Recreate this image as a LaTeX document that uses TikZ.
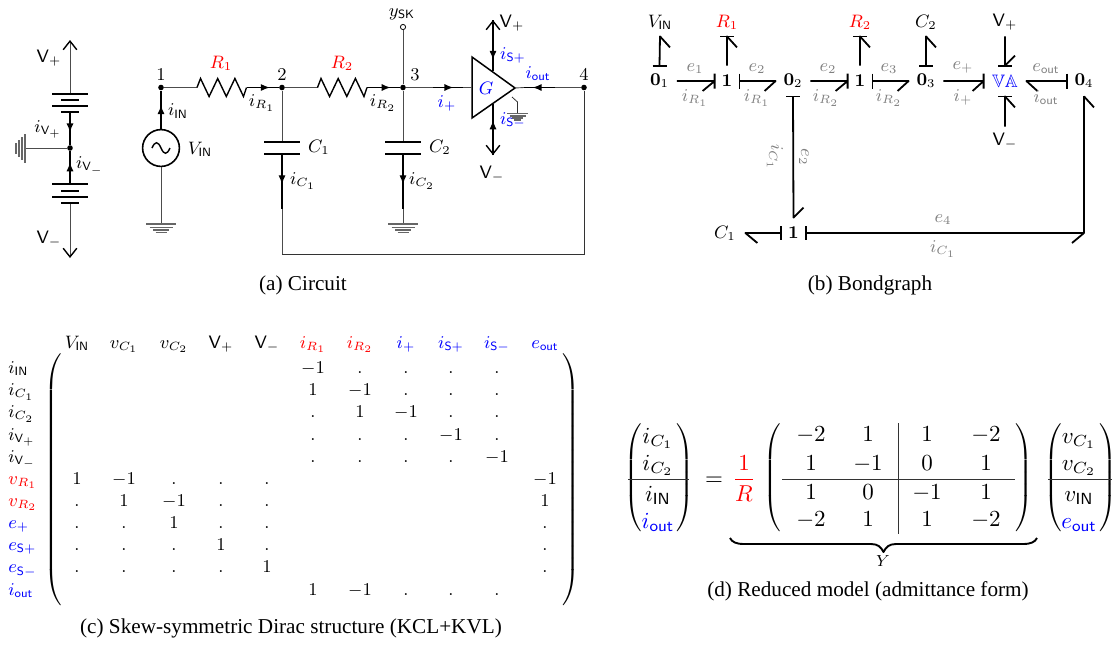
\documentclass[tikz,border=0pt]{standalone}
\usepackage[no-math]{fontspec}
\usepackage{amsmath,amssymb}
\usetikzlibrary{arrows.meta,decorations.markings,calc}
\newfontfamily\capfont{Liberation Serif}
\newcommand{\Vp}{\mathsf{V}_{+}}
\newcommand{\Vm}{\mathsf{V}_{-}}
\newcommand{\mysf}[1]{\mathsf{#1}}
\tikzset{
  x=0.5pt,y=-0.5pt,
  wire/.style={line width=0.45pt,black!70},
  blk/.style={line width=0.7pt,black},
  plate/.style={line width=0.8pt,black},
  gnd/.style={line width=0.6pt,black!60},
  curarrow/.style={decoration={markings,mark=at position #1 with {\arrow{Latex[length=4.5pt,width=3.6pt,black]}}},postaction=decorate},
  barb/.style={-{Straight Barb[length=4.3pt,width=6.8pt,black,line width=0.7pt]}},
  dotn/.style={circle,fill=black,inner sep=0pt,minimum size=2.8pt},
  txt/.style={inner sep=0pt,font=\small},
  bl/.style={txt,text=blue},
  rd/.style={txt,text=red},
  captext/.style={inner sep=0pt,font=\capfont\fontsize{10.6}{13}\selectfont},
  bond/.style={line width=0.9pt,black,line join=round},
  bnode/.style={inner sep=0pt,minimum height=15pt,font=\small},
  zero/.style={bnode,minimum width=17pt},
  one/.style={bnode,minimum width=12pt},
  va/.style={bnode,minimum width=21pt,text=blue},
  bext/.style={inner sep=0pt,minimum height=14pt,font=\small},
  glab/.style={inner sep=0pt,text=black!50,font=\small},
  ent/.style={inner sep=0pt,anchor=base,font=\small},
  rowl/.style={inner sep=0pt,anchor=base west,font=\small},
  dent/.style={inner sep=0pt,anchor=base,scale=1.15},
  rulel/.style={line width=0.45pt,black!80},
}
\begin{document}
\begin{tikzpicture}
\useasboundingbox (0,0) rectangle (1116,644);
% ---------- (a) supply branch
\coordinate (vpt) at (70,40);
\coordinate (bt1) at (70,94);
\coordinate (bt2) at (70,112);
\node[dotn] (nm) at (70,148) {};
\coordinate (bb1) at (70,184);
\coordinate (bb2) at (70,203);
\coordinate (vmt) at (70,258);
\coordinate (gl) at (25,148);
\draw[wire,barb] (bt1) -- (vpt);
\draw[wire,barb] (bb2) -- (vmt);
\draw[blk,curarrow=0.62] (bt2) -- (nm);
\draw[blk,curarrow=0.66] (bb1) -- (nm);
\draw[wire] (nm) -- (gl);
\foreach \yy/\hw in {94/18,106/18,184/18,197/18}{\draw[plate] (70-\hw,\yy) -- (70+\hw,\yy);}
\foreach \yy/\hw in {100/9,112/9,191/9,203/9}{\draw[plate] (70-\hw,\yy) -- (70+\hw,\yy);}
\draw[gnd] (25,134) -- (25,163) (22,137) -- (22,160) (19,140) -- (19,157) (16,143) -- (16,154);
\node[txt] (lvp) at (49,58) {$\Vp$};
\node[txt] (lvm) at (49,239) {$\Vm$};
\node[txt] (liv1) at (48,129.5) {$i_{\Vp}$};
\node[txt] (liv2) at (90,166) {$i_{\Vm}$};
% ---------- (a) main circuit
\node[dotn] (n1) at (161,87.5) {};
\node[dotn] (n2) at (282,87.5) {};
\node[dotn] (n3) at (403,87.5) {};
\node[dotn] (n4) at (584,87.5) {};
\node[circle,draw=black,line width=0.8pt,minimum size=18.4pt,inner sep=0pt] (vs) at (161,148) {};
\draw[line width=0.7pt] (152,148) .. controls (155,141) and (158,141) .. (161,148) .. controls (164,155) and (167,155) .. (170,148);
\draw[blk,curarrow=0.62] (vs.north) -- (n1);
\coordinate (g1) at (161,224);
\draw[wire] (vs.south) -- (g1);
\coordinate (r1a) at (197,87.5);
\coordinate (r1b) at (246.5,87.5);
\coordinate (r2a) at (317.5,87.5);
\coordinate (r2b) at (367,87.5);
\draw[wire] (n1) -- (r1a);
\draw[blk] (r1a) -- ++(3.5,-9) -- ++(8.6,18) -- ++(8.6,-18) -- ++(8.6,18) -- ++(8.6,-18) -- ++(8.6,18) -- (r1b);
\draw[blk,curarrow=0.72] (r1b) -- (n2);
\draw[wire] (n2) -- (r2a);
\draw[blk] (r2a) -- ++(3.5,-9) -- ++(8.6,18) -- ++(8.6,-18) -- ++(8.6,18) -- ++(8.6,-18) -- ++(8.6,18) -- (r2b);
\draw[blk,curarrow=0.72] (r2b) -- (n3);
% capacitor branches
\coordinate (c1t) at (282,142); \coordinate (c1b) at (282,154); \coordinate (c1e) at (282,209); \coordinate (c1f) at (282,254);
\coordinate (c2t) at (403,142); \coordinate (c2b) at (403,154); \coordinate (c2e) at (403,209); \coordinate (g2) at (403,224);
\draw[wire] (n2) -- (c1t);
\draw[plate] ($(c1t)+(-18,0)$) -- ($(c1t)+(18,0)$);
\draw[plate] ($(c1b)+(-18,0)$) -- ($(c1b)+(18,0)$);
\draw[blk,curarrow=0.55] (c1b) -- (c1e);
\draw[wire] (c1e) -- (c1f);
\draw[wire,black!80] (c1f) -| (n4);
\draw[wire] (n3) -- (c2t);
\draw[plate] ($(c2t)+(-18,0)$) -- ($(c2t)+(18,0)$);
\draw[plate] ($(c2b)+(-18,0)$) -- ($(c2b)+(18,0)$);
\draw[blk,curarrow=0.55] (c2b) -- (c2e);
\draw[wire] (c2e) -- (g2);
\foreach \cx in {161,403}{
  \draw[gnd] (\cx-15,224) -- (\cx+15,224) (\cx-11.5,227.5) -- (\cx+11.5,227.5) (\cx-8,230) -- (\cx+8,230) (\cx-5.5,232.7) -- (\cx+5.5,232.7);
}
\node[draw=black,circle,fill=white,line width=0.4pt,minimum size=2.6pt,inner sep=0pt] (ysk) at (403,27) {};
\draw[wire] (n3) -- (ysk);
% amplifier
\coordinate (ta) at (472,57); \coordinate (tb) at (472,118); \coordinate (tc) at (515,88);
\draw[line width=0.75pt,line join=miter] (ta) -- (tb) -- (tc) -- cycle;
\coordinate (pa) at (433,87.5); \coordinate (pb) at (463,87.5); \coordinate (pc) at (472,87.5);
\draw[wire] (n3) -- (pa); \draw[blk,curarrow=0.68] (pa) -- (pb); \draw[wire] (pb) -- (pc);
\coordinate (oa) at (524,87.5); \coordinate (ob) at (555,87.5);
\draw[wire] (tc) -- (oa); \draw[blk,curarrow=0.72] (ob) -- (oa); \draw[wire] (ob) -- (n4);
\coordinate (sp) at (493,20); \coordinate (sq) at (493,71);
\coordinate (sm) at (493,155); \coordinate (sn) at (493,104);
\draw[blk,barb] (sq) -- (sp);
\draw[blk,barb] (sn) -- (sm);
\draw[blk,curarrow=0.78] (sp) -- (sq);
\draw[blk,curarrow=0.68] (sm) -- (sn);
\coordinate (gs) at (517.5,113);
\draw[line width=0.4pt,black!80] (512,97) -- (517.5,102) -- (gs);
\draw[gnd] (507,113.5) -- (528,113.5) (509.5,116) -- (525.5,116) (512,118) -- (523,118) (514,120) -- (521,120);
% labels
\node[txt] (l1) at (161,75) {$1$};
\node[txt] (l2) at (282,75) {$2$};
\node[txt] (l3) at (415,75) {$3$};
\node[txt] (l4) at (584,75) {$4$};
\node[rd] (lr1) at (221,63) {$R_1$};
\node[rd] (lr2) at (342,63) {$R_2$};
\node[txt] (lir1) at (262,103) {$i_{R_1}$};
\node[txt] (lir2) at (383,103) {$i_{R_2}$};
\node[txt] (liin) at (178,111) {$i_{\mysf{IN}}$};
\node[txt] (lvin) at (200,149) {$V_{\mysf{IN}}$};
\node[txt] (lc1) at (319,147) {$C_1$};
\node[txt] (lc2) at (440,147) {$C_2$};
\node[txt] (lic1) at (303,181) {$i_{C_1}$};
\node[txt] (lic2) at (422,181) {$i_{C_2}$};
\node[txt] (lysk) at (402,14) {$y_{\mysf{SK}}$};
\node[bl] (lg) at (486,88) {$G$};
\node[bl] (lip) at (447,103) {$i_{+}$};
\node[bl] (liout) at (538,74) {$i_{\mysf{out}}$};
\node[bl] (lisp) at (513,55) {$i_{\mysf{S}+}$};
\node[bl] (lism) at (513,120) {$i_{\mysf{S}-}$};
\node[txt] (lvp2) at (512,23) {$\Vp$};
\node[txt] (lvm2) at (492,174) {$\Vm$};
\node[captext] (capa) at (303,285.5) {(a) Circuit};
% ---------- (b) bond graph
\node[zero] (b01) at (659.5,81) {$\mathbf{0}_1$};
\node[one] (b1a) at (727,81) {$\mathbf{1}$};
\node[zero] (b02) at (793,81) {$\mathbf{0}_2$};
\node[one] (b1b) at (860,81) {$\mathbf{1}$};
\node[zero] (b03) at (926,81) {$\mathbf{0}_3$};
\node[va] (bva) at (1005,81) {$\mathbb{VA}$};
\node[zero] (b04) at (1084,81) {$\mathbf{0}_4$};
\node[one] (b1c) at (793.5,233) {$\mathbf{1}$};
\node[bext] (evin) at (660,22) {$V_{\mysf{IN}}$};
\node[bext,text=red] (er1) at (727,22) {$R_1$};
\node[bext,text=red] (er2) at (860,22) {$R_2$};
\node[bext] (ec2) at (926,22) {$C_2$};
\node[bext] (evp) at (1005,22) {$\Vp$};
\node[bext] (evm) at (1005,141) {$\Vm$};
\node[inner sep=0pt,minimum width=20pt,minimum height=14pt,font=\small] (ec1) at (725,233) {$C_1$};
% horizontal bonds: stroke at head
\draw[bond] (b01.east) -- (b1a.west) -- ++(-12,10) (b1a.west) ++(0,-7.5) -- ++(0,15);
\draw[bond] (b02.east) -- (b1b.west) -- ++(-12,10) (b1b.west) ++(0,-7.5) -- ++(0,15);
\draw[bond] (b03.east) -- (bva.west) -- ++(-11,10) (bva.west) ++(0,-7.5) -- ++(0,15);
% horizontal bonds: stroke at tail
\draw[bond] (b1a.east) ++(0,-7.5) -- ++(0,15);
\draw[bond] (b1a.east) -- (b02.west) -- ++(-11,10);
\draw[bond] (b1b.east) ++(0,-7.5) -- ++(0,15);
\draw[bond] (b1b.east) -- (b03.west) -- ++(-11,10);
\draw[bond] (b04.west) ++(0,-7.5) -- ++(0,15);
\draw[bond] (b04.west) -- (bva.east) -- ++(11,10);
% vertical bonds
\draw[bond] (b01.north) ++(-7,0) -- ++(14,0);
\draw[bond] (b01.north) -- (evin.south) -- ++(10,11);
\draw[bond] (er1.south) ++(-7,0) -- ++(14,0);
\draw[bond] (b1a.north) -- (er1.south) -- ++(10,11);
\draw[bond] (er2.south) ++(-7,0) -- ++(14,0);
\draw[bond] (b1b.north) -- (er2.south) -- ++(10,11);
\draw[bond] (b03.north) ++(-7,0) -- ++(14,0);
\draw[bond] (b03.north) -- (ec2.south) -- ++(10,11);
\draw[bond] (bva.north) ++(-7,0) -- ++(14,0);
\draw[bond] (evp.south) -- (bva.north) -- ++(10,-10);
\draw[bond] (bva.south) ++(-7,0) -- ++(14,0);
\draw[bond] (evm.north) -- (bva.south) -- ++(10,11);
\draw[bond] (b02.south) ++(-7,0) -- ++(14,0);
\draw[bond] (b02.south) -- (b1c.north) -- ++(10,-10);
\draw[bond] (b1c.west) ++(0,-7) -- ++(0,14);
\draw[bond] (b1c.west) -- (ec1.east) -- ++(12,10);
\draw[bond] (b1c.east) ++(0,-7) -- ++(0,14);
\draw[bond] (b1c.east) -| (b04.south);
\draw[bond] (b04.south) -- ++(10,11);
\draw[bond] (b04.south |- b1c.east) -- ++(-12,10);
% bond labels
\node[glab] (ge1) at (695,69) {$e_1$};
\node[glab] (gi1) at (695,98) {$i_{R_1}$};
\node[glab] (ge2) at (757,69) {$e_2$};
\node[glab] (gi2) at (757,98) {$i_{R_1}$};
\node[glab] (ge3) at (828,69) {$e_2$};
\node[glab] (gi3) at (826,98) {$i_{R_2}$};
\node[glab] (ge4) at (889,69) {$e_3$};
\node[glab] (gi4) at (889,98) {$i_{R_2}$};
\node[glab] (ge5) at (963,67) {$e_{+}$};
\node[glab] (gi5) at (963,97) {$i_{+}$};
\node[glab] (ge6) at (1046,69) {$e_{\mysf{out}}$};
\node[glab] (gi6) at (1046,98) {$i_{\mysf{out}}$};
\node[glab,rotate=-90] (gi7) at (775,157) {$i_{C_1}$};
\node[glab,rotate=-90] (ge7) at (804,157) {$e_2$};
\node[glab] (ge8) at (943,220) {$e_4$};
\node[glab] (gi8) at (943,249) {$i_{C_1}$};
\node[captext] (capb) at (870,285.5) {(b) Bondgraph};
% ---------- (c) Dirac structure
\foreach \cx/\t in {77/V_{\mysf{IN}},124/v_{C_1},174/v_{C_2},221/\Vp,267/\Vm}{
  \node[ent] (h\cx) at (\cx,348) {$\t$};}
\foreach \cx/\t in {313/i_{R_1},360/i_{R_2}}{
  \node[ent,text=red] (h\cx) at (\cx,348) {$\t$};}
\foreach \cx/\t in {406/i_{+},451/i_{\mysf{S}+},497/i_{\mysf{S}-},545/e_{\mysf{out}}}{
  \node[ent,text=blue] (h\cx) at (\cx,348) {$\t$};}
\foreach \yy/\t in {373.5/i_{\mysf{IN}},395.7/i_{C_1},417.8/i_{C_2},440/i_{\Vp},462.1/i_{\Vm}}{
  \node[rowl] (rl\yy) at (8,\yy) {$\t$};}
\foreach \yy/\t in {484.2/v_{R_1},506.4/v_{R_2}}{
  \node[rowl,text=red] (rl\yy) at (8,\yy) {$\t$};}
\foreach \yy/\t in {528.6/e_{+},550.7/e_{\mysf{S}+},572.9/e_{\mysf{S}-},595/i_{\mysf{out}}}{
  \node[rowl,text=blue] (rl\yy) at (8,\yy) {$\t$};}
\foreach \yy/\row in {
 373.5/{313/-1,360/.,406/.,451/.,497/.},
 395.7/{313/1,360/-1,406/.,451/.,497/.},
 417.8/{313/.,360/1,406/-1,451/.,497/.},
 440/{313/.,360/.,406/.,451/-1,497/.},
 462.1/{313/.,360/.,406/.,451/.,497/-1},
 484.2/{77/1,124/-1,174/.,221/.,267/.,545/-1},
 506.4/{77/.,124/1,174/-1,221/.,267/.,545/1},
 528.6/{77/.,124/.,174/1,221/.,267/.,545/.},
 550.7/{77/.,124/.,174/.,221/1,267/.,545/.},
 572.9/{77/.,124/.,174/.,221/.,267/1,545/.},
 595/{313/1,360/-1,406/.,451/.,497/.}}{
  \foreach \cx/\t in \row {\node[ent] (e\cx-\yy) at (\cx,\yy) {$\t$};}
}
\node[inner sep=0pt] (pcl) at (54.5,480) {$\left(\vcenter{\hbox{\vrule height 65pt depth 65pt width 0pt}}\right.$};
\node[inner sep=0pt] (pcr) at (570,480) {$\left.\vcenter{\hbox{\vrule height 65pt depth 65pt width 0pt}}\right)$};
\node[captext] (capc) at (291,628.5) {(c) Skew-symmetric Dirac structure (KCL+KVL)};
% ---------- (d) reduced model
\foreach \yy/\t in {443/i_{C_1},470/i_{C_2},501/i_{\mysf{IN}}}{
  \node[dent] (dl\yy) at (658,\yy) {$\t$};}
\node[dent,text=blue] (dl528) at (658,528) {$i_{\mysf{out}}$};
\foreach \yy/\t in {443/v_{C_1},470/v_{C_2},501/v_{\mysf{IN}}}{
  \node[dent] (dr\yy) at (1079,\yy) {$\t$};}
\node[dent,text=blue] (dr528) at (1079,528) {$e_{\mysf{out}}$};
\foreach \cx/\cc in {634/(,773.5/(,1054/(}{
  \node[inner sep=0pt] (pl\cx) at (\cx,478) {$\left\cc\vcenter{\hbox{\vrule height 28pt depth 28pt width 0pt}}\right.$};}
\foreach \cx/\cc in {684/),1023/),1107/)}{
  \node[inner sep=0pt] (pr\cx) at (\cx,478) {$\left.\vcenter{\hbox{\vrule height 28pt depth 28pt width 0pt}}\right\cc$};}
\coordinate (la1) at (628,479); \coordinate (la2) at (689,479);
\coordinate (lb1) at (1048,479); \coordinate (lb2) at (1112,479);
\draw[rulel] (la1) -- (la2);
\draw[rulel] (lb1) -- (lb2);
\node[dent] (eq) at (714,485) {$=$};
\node[dent,text=red] (frn) at (744,470) {$1$};
\node[dent,text=red] (frd) at (744,501) {$R$};
\draw[red,line width=0.45pt] (735,479) -- (753,479);
\foreach \yy/\row in {
 441.5/{811/-2,868/1,927/1,986/-2},
 470/{811/1,868/-1,927/0,986/1},
 499/{811/1,868/0,927/-1,986/1},
 526/{811/-2,868/1,927/1,986/-2}}{
  \foreach \cx/\t in \row {\node[dent] (d\cx-\yy) at (\cx,\yy) {$\t$};}
}
\coordinate (vr1) at (898,423); \coordinate (vr2) at (898,534);
\coordinate (hr1) at (782,479); \coordinate (hr2) at (1015,479);
\draw[rulel] (vr1) -- (vr2);
\draw[rulel] (hr1) -- (hr2);
% underbrace
\coordinate (brl) at (730,538); \coordinate (brm) at (883.5,552); \coordinate (brr) at (1037,538);
\draw[line width=0.95pt,line join=round] (brl) .. controls (732,542) and (736,544) .. (744,544) -- (871,544) .. controls (878,544) and (881,547) .. (brm) .. controls (886,547) and (889,544) .. (896,544) -- (1023,544) .. controls (1031,544) and (1035,542) .. (brr);
\node[inner sep=0pt,font=\footnotesize] (ly) at (883,561) {$Y$};
\node[captext] (capd) at (868,591.5) {(d) Reduced model (admittance form)};
\end{tikzpicture}
\end{document}
